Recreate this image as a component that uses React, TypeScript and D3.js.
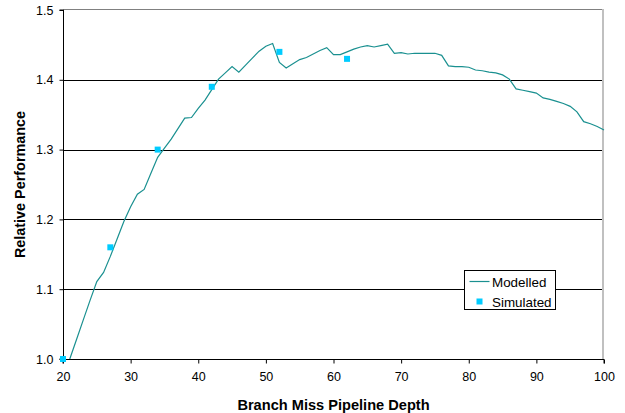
import { useEffect, useRef } from "react";
import * as d3 from "d3";

// modelled curve, one value per pipeline depth 21..100
const modelDepths = d3.range(21, 101);
const modelValues = [
  1.000, 1.028, 1.056, 1.084, 1.111, 1.124, 1.147, 1.172, 1.197, 1.218,
  1.236, 1.243, 1.266, 1.289, 1.302, 1.315, 1.330, 1.345, 1.346, 1.359,
  1.371, 1.386, 1.401, 1.410, 1.419, 1.411, 1.421, 1.431, 1.441, 1.448,
  1.452, 1.425, 1.417, 1.423, 1.429, 1.432, 1.437, 1.442, 1.446, 1.436,
  1.436, 1.440, 1.444, 1.447, 1.449, 1.447, 1.449, 1.451, 1.438, 1.439,
  1.437, 1.438, 1.438, 1.438, 1.438, 1.435, 1.420, 1.419, 1.419, 1.418,
  1.414, 1.413, 1.411, 1.410, 1.407, 1.401, 1.387, 1.385, 1.383, 1.381,
  1.374, 1.372, 1.369, 1.366, 1.362, 1.354, 1.340, 1.337, 1.333, 1.328,
];

const simDepths = [20, 27, 34, 42, 52, 62];
const simValues = [1.0, 1.16, 1.3, 1.39, 1.44, 1.43];

const xTicks = [20, 30, 40, 50, 60, 70, 80, 90, 100];
const yTicks = [1.0, 1.1, 1.2, 1.3, 1.4, 1.5];

const W = 625;
const H = 413;
const margin = { left: 63, right: 21, top: 10, bottom: 54 };
const lineColor = "#1a9090";
const simColor = "#00ccff";
const font = "Liberation Sans, Arial, sans-serif";

export default function App() {
  const svgRef = useRef<SVGSVGElement>(null);

  useEffect(() => {
    const svg = d3.select(svgRef.current);
    svg.selectAll("*").remove();

    const x = d3.scaleLinear().domain([20, 100]).range([margin.left, W - margin.right]);
    const y = d3.scaleLinear().domain([1.0, 1.5]).range([H - margin.bottom, margin.top]);

    // grid lines
    svg.append("g")
      .selectAll("line")
      .data(yTicks.filter(t => t > 1.0 && t < 1.5))
      .join("line")
      .attr("x1", x(20)).attr("x2", x(100))
      .attr("y1", d => Math.round(y(d)) + 0.5).attr("y2", d => Math.round(y(d)) + 0.5)
      .attr("stroke", "#000").attr("stroke-width", 1);

    // top and right border
    svg.append("line")
      .attr("x1", x(20)).attr("x2", x(100))
      .attr("y1", Math.round(y(1.5)) - 0.5).attr("y2", Math.round(y(1.5)) - 0.5)
      .attr("stroke", "#808080");
    svg.append("line")
      .attr("x1", Math.round(x(100)) - 1).attr("x2", Math.round(x(100)) - 1)
      .attr("y1", y(1.5) - 1).attr("y2", y(1.0))
      .attr("stroke", "#c0c0c0").attr("stroke-width", 2);

    // axes
    const xAxis = svg.append("g")
      .attr("transform", `translate(0,${Math.round(y(1.0)) + 0.5})`)
      .call(d3.axisBottom(x).tickValues(xTicks).tickSize(4).tickPadding(9).tickFormat(d3.format("d")));
    const yAxis = svg.append("g")
      .attr("transform", `translate(${Math.round(x(20)) + 0.5},0)`)
      .call(d3.axisLeft(y).tickValues(yTicks).tickSize(4).tickPadding(6).tickFormat(d3.format(".1f")));
    [xAxis, yAxis].forEach(a => {
      a.select(".domain").attr("stroke", "#000");
      a.selectAll(".tick line").attr("stroke", "#000");
      a.selectAll("text").attr("font-family", font).attr("font-size", 12.5).attr("fill", "#000");
    });
    xAxis.selectAll(".domain").attr("d", `M${x(20)},4V0H${x(100)}V4`);
    yAxis.selectAll(".domain").attr("d", `M-4,${y(1.5)}H0V${y(1.0)}H-4`);

    // modelled line
    const line = d3.line<number>()
      .x((_, i) => x(modelDepths[i]))
      .y(d => y(d));
    svg.append("path")
      .datum(modelValues)
      .attr("d", line)
      .attr("fill", "none")
      .attr("stroke", lineColor)
      .attr("stroke-width", 1.2);

    // simulated points
    svg.append("g")
      .selectAll("rect")
      .data(simValues)
      .join("rect")
      .attr("x", (_, i) => x(simDepths[i]) - 3)
      .attr("y", d => y(d) - 3)
      .attr("width", 6).attr("height", 6)
      .attr("fill", simColor);

    // axis titles
    svg.append("text")
      .attr("x", (x(20) + x(100)) / 2).attr("y", 410)
      .attr("text-anchor", "middle")
      .attr("font-family", font).attr("font-size", 14.6).attr("font-weight", "bold")
      .text("Branch Miss Pipeline Depth");
    svg.append("text")
      .attr("transform", `translate(25,${(y(1.0) + y(1.5)) / 2}) rotate(-90)`)
      .attr("text-anchor", "middle")
      .attr("font-family", font).attr("font-size", 14.4).attr("font-weight", "bold")
      .text("Relative Performance");

    // legend
    const lg = svg.append("g").attr("transform", "translate(464.5,270.5)");
    lg.append("rect")
      .attr("width", 91).attr("height", 39)
      .attr("fill", "#fff").attr("stroke", "#000");
    lg.append("line")
      .attr("x1", 5).attr("x2", 25).attr("y1", 11).attr("y2", 11)
      .attr("stroke", lineColor).attr("stroke-width", 1.2);
    lg.append("text")
      .attr("x", 27.5).attr("y", 16)
      .attr("font-family", font).attr("font-size", 13.4)
      .text("Modelled");
    lg.append("rect")
      .attr("x", 12).attr("y", 28).attr("width", 6).attr("height", 6)
      .attr("fill", simColor);
    lg.append("text")
      .attr("x", 27.5).attr("y", 36)
      .attr("font-family", font).attr("font-size", 13.4)
      .text("Simulated");
  }, []);

  return (
    <div style={{ position: "absolute", left: 0, top: 0 }}>
      <svg ref={svgRef} width={W} height={H} style={{ display: "block" }} />
    </div>
  );
}
